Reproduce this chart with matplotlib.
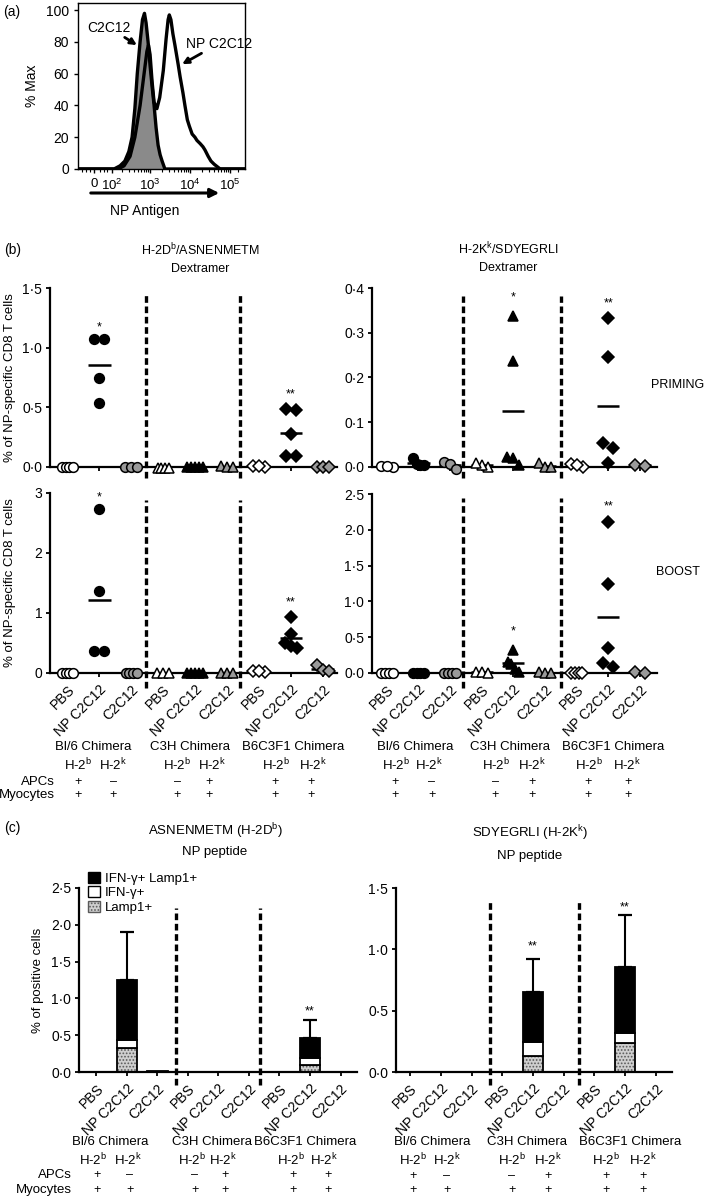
import numpy as np
import matplotlib
matplotlib.use('Agg')
import matplotlib.pyplot as plt
from matplotlib.ticker import FixedLocator, FuncFormatter
from matplotlib.patches import Patch, FancyArrowPatch

# ---------------- data ----------------
# panel (a) histograms (x in log10 fluorescence units, y = % Max)
c2c12_x = [1.2, 2.1, 2.25, 2.37, 2.47, 2.55, 2.62, 2.68, 2.75, 2.81, 2.86, 2.9, 2.95, 3.0, 3.05, 3.1, 3.15, 3.2, 3.25, 3.3, 3.37, 5.37]
c2c12_y = [0, 0, 2, 5, 11, 20, 38, 60, 80, 94, 98, 92, 80, 65, 52, 40, 26, 15, 9, 5, 0, 0]
npc2_x = [1.2, 2.2, 2.35, 2.5, 2.62, 2.75, 2.85, 2.92, 2.96, 3.0, 3.05, 3.1, 3.17, 3.24, 3.33, 3.4, 3.45, 3.48, 3.52, 3.57, 3.62, 3.7,
          3.75, 3.82, 3.87, 3.93, 3.98, 4.05, 4.12, 4.17, 4.25, 4.32, 4.37, 4.45, 4.52, 4.6, 4.7, 4.75, 5.37]
npc2_y = [0, 0, 2, 8, 20, 40, 60, 74, 78, 72, 55, 42, 38, 45, 62, 82, 94, 97, 94, 85, 78, 66,
          58, 48, 40, 31, 27, 22, 20, 18, 16, 14, 12, 8, 5, 3, 1, 0, 0]
hist_xticks = [1.6, 2.05, 3, 4, 5]
hist_xticklabels = ['0', '$10^2$', '$10^3$', '$10^4$', '$10^5$']

# panel (b): groups = [Bl/6 PBS, Bl/6 NP C2C12, Bl/6 C2C12, C3H PBS, C3H NP, C3H C2C12, B6 PBS, B6 NP, B6 C2C12]
group_labels = ['PBS', 'NP C2C12', 'C2C12'] * 3
prime_Db = [[0, 0, 0, 0], [1.07, 1.07, 0.745, 0.54], [0, 0, 0],
            [-0.005, -0.005, -0.005, -0.005], [0, 0, 0, 0, 0], [0.01, 0, 0],
            [0.01, 0, 0.005], [0.49, 0.48, 0.28, 0.09, 0.09], [0, 0, 0]]
prime_Kk = [[0.003, 0, 0.002], [0.005, 0.004, 0.006, 0.02], [0.012, 0.006, -0.004],
            [0.0, 0.005, 0.008], [0.338, 0.237, 0.022, 0.02, 0.005], [0.008, 0, 0],
            [0.006, 0.0, 0.004], [0.333, 0.246, 0.054, 0.042, 0.009], [0.004, 0.003]]
boost_Db = [[0, 0, 0, 0], [2.73, 1.37, 0.37, 0.37], [0, 0, 0, 0],
            [0, 0, 0], [0, 0, 0, 0, 0], [0, 0, 0],
            [0.04, 0.02, 0.03], [0.93, 0.65, 0.50, 0.45, 0.42], [0.13, 0.05, 0.03]]
boost_Kk = [[0, 0, 0, 0], [0, 0, 0, 0], [0, 0, 0, 0],
            [0.02, 0.01, 0], [0.32, 0.15, 0.12, 0.06, 0.02], [0.01, 0, 0],
            [0, 0, 0, 0], [2.11, 1.25, 0.35, 0.14, 0.08], [0.01, 0]]
# significance stars (group index, y value, text)
stars_prime_Db = [(1, 1.17, '*'), (7, 0.61, '**')]
stars_prime_Kk = [(4, 0.378, '*'), (7, 0.365, '**')]
stars_boost_Db = [(1, 2.93, '*'), (7, 1.18, '**')]
stars_boost_Kk = [(4, 0.58, '*'), (7, 2.33, '**')]

# panel (c): stacked bars per group
bar_lamp_Db = [0, 0.33, 0, 0, 0, 0, 0, 0.09, 0]
bar_ifn_Db = [0, 0.10, 0, 0, 0, 0, 0, 0.10, 0]
bar_both_Db = [0, 0.82, 0.02, 0, 0, 0, 0, 0.27, 0]
bar_err_Db = [0, 0.65, 0, 0, 0, 0, 0, 0.24, 0]
bar_lamp_Kk = [0, 0, 0, 0, 0.13, 0, 0, 0.24, 0]
bar_ifn_Kk = [0, 0, 0, 0, 0.115, 0, 0, 0.08, 0]
bar_both_Kk = [0, 0, 0, 0, 0.405, 0, 0, 0.54, 0]
bar_err_Kk = [0, 0, 0, 0, 0.27, 0, 0, 0.42, 0]
stars_bar_Db = [(7, 0.82, '**')]
stars_bar_Kk = [(4, 1.02, '**'), (7, 1.34, '**')]

chimeras = ['Bl/6 Chimera', 'C3H Chimera', 'B6C3F1 Chimera']
haplo = ['H-2$^{\\mathrm{b}}$', 'H-2$^{\\mathrm{k}}$'] * 3
apcs = ['+', '–', '–', '+', '+', '+']
myocytes = ['+', '+', '+', '+', '+', '+']

# ---------------- style ----------------
plt.rcParams['font.family'] = ['Liberation Sans', 'DejaVu Sans']
plt.rcParams['mathtext.fontset'] = 'custom'
plt.rcParams['mathtext.rm'] = 'Liberation Sans'
plt.rcParams['mathtext.it'] = 'Liberation Sans:italic'
plt.rcParams['mathtext.bf'] = 'Liberation Sans:bold'
plt.rcParams['font.size'] = 9
plt.rcParams['hatch.linewidth'] = 0.8

W, H = 712, 1197
fig = plt.figure(figsize=(W / 100, H / 100), dpi=100)
FS = 9
TFS = 10


def axes_px(l, t, r, b):
    return fig.add_axes([l / W, 1 - b / H, (r - l) / W, (b - t) / H])


def T(x, y, s, ha='center', va='center', **kw):
    kw.setdefault('fontsize', FS)
    fig.text(x / W, 1 - y / H, s, ha=ha, va=va, **kw)


def dotfmt(dec):
    def f(v, pos):
        return (f'{v:.{dec}f}').replace('.', '·')
    return FuncFormatter(f)


# ---------------- panel (a) ----------------
axA = axes_px(78, 3, 245, 169)
axA.fill_between(c2c12_x, c2c12_y, color='#8a8a8a', lw=0, zorder=1)
axA.plot(c2c12_x, c2c12_y, color='k', lw=2.4, zorder=2)
axA.plot(npc2_x, npc2_y, color='k', lw=2.4, zorder=3)
axA.set_xlim(1.2, 5.37)
axA.set_ylim(0, 104.5)
axA.xaxis.set_major_locator(FixedLocator(hist_xticks))
axA.set_xticklabels(hist_xticklabels, fontsize=9.5)
minors = [np.log10(k * 10 ** d) for d in (2, 3, 4) for k in range(2, 10)] + [5.2, 1.3, 1.4, 1.5, 1.6, 1.75, 1.85, 1.92]
axA.xaxis.set_minor_locator(FixedLocator(minors))
axA.set_yticks([0, 20, 40, 60, 80, 100])
axA.tick_params(axis='both', labelsize=TFS, direction='out', width=1, length=3)
axA.tick_params(axis='x', labelsize=9.5)
axA.tick_params(axis='x', which='minor', length=2, width=0.8)
for s in axA.spines.values():
    s.set_linewidth(1.0)
axA.annotate('C2C12', xy=(2.67, 78), xytext=(1.98, 89), ha='center', va='center', fontsize=TFS,
             arrowprops=dict(arrowstyle='-|>', lw=2.0, color='k', mutation_scale=9, shrinkA=0, shrinkB=0))
axA.annotate('NP C2C12', xy=(3.8, 66), xytext=(4.72, 79), ha='center', va='center', fontsize=TFS,
             arrowprops=dict(arrowstyle='-|>', lw=2.0, color='k', mutation_scale=9, shrinkA=0, shrinkB=0))
axA.set_ylabel('% Max', fontsize=TFS, labelpad=5)
fig.add_artist(FancyArrowPatch((88 / W, 1 - 193 / H), (222 / W, 1 - 193 / H), transform=fig.transFigure,
                               arrowstyle='-|>', mutation_scale=13, lw=2.2, color='k'))
T(145, 211, 'NP Antigen', fontsize=TFS)
T(3, 12, '(a)', ha='left', fontsize=TFS)

# ---------------- panel (b) ----------------
markers = ['o', '^', 'D']
msizes = [7, 7.5, 6]
faces = ['white', 'black', '#9a9a9a']


def swarm_offsets(vals, ypp, diam):
    vals = np.asarray(vals, float)
    order = np.argsort(-vals, kind='stable')
    offs = np.zeros(len(vals))
    clusters, cur = [], [order[0]]
    for a, b in zip(order[:-1], order[1:]):
        if (vals[a] - vals[b]) * ypp < 0.8 * diam:
            cur.append(b)
        else:
            clusters.append(cur)
            cur = [b]
    clusters.append(cur)
    for c in clusters:
        n = len(c)
        sp = diam * (1.0 if n == 2 else (0.6 if n == 3 else 0.38))
        for k, idx in enumerate(c):
            offs[idx] = (k - (n - 1) / 2) * sp
    return offs


def style_axis(ax, xlim, ylim, yticks, fmt, labels):
    ax.set_xlim(*xlim)
    ax.set_ylim(*ylim)
    for s in ['top', 'right']:
        ax.spines[s].set_visible(False)
    ax.spines['left'].set_linewidth(1.6)
    ax.spines['bottom'].set_linewidth(1.6)
    ax.set_yticks(yticks)
    ax.yaxis.set_major_formatter(fmt)
    ax.set_xticks(range(9))
    if labels:
        ax.set_xticklabels(group_labels, rotation=45, ha='right', rotation_mode='anchor', fontsize=TFS)
    else:
        ax.set_xticklabels([])
    ax.tick_params(axis='both', labelsize=TFS, direction='out', width=1.3, length=3, pad=2.5)
    ax.tick_params(axis='x', pad=4)


def dashed(ax, xs, top, bot):
    for x in xs:
        ax.plot([x, x], [bot, top], transform=ax.get_xaxis_transform(), color='k', lw=2.4,
                linestyle=(0, (2.0, 1.1)), clip_on=False, zorder=1)


def dot_panel(ax, groups, xlim, ylim, yticks, fmt, labels, dash_x, dtop, dbot, stars):
    style_axis(ax, xlim, ylim, yticks, fmt, labels)
    pos = ax.get_position()
    xpp = pos.width * W / (xlim[1] - xlim[0])
    ypp = pos.height * H / (ylim[1] - ylim[0])
    diam = 10
    for i, vals in enumerate(groups):
        strain, cond = i // 3, i % 3
        offs = swarm_offsets(vals, ypp, diam) / xpp
        xs = i + offs
        ax.hlines(np.mean(vals), i - 0.35, i + 0.35, color='k', lw=1.8, zorder=2)
        ax.plot(xs, vals, linestyle='none', marker=markers[strain], ms=msizes[strain],
                mfc=faces[cond], mec='k', mew=1.1, clip_on=False, zorder=3)
    for gi, y, s in stars:
        ax.text(gi, y, s, ha='center', va='center', fontsize=9)
    dashed(ax, dash_x, dtop, dbot)


PL = axes_px(50, 288, 337, 467)
dot_panel(PL, prime_Db, (-0.55, 8.45), (0, 1.5), [0, 0.5, 1.0, 1.5], dotfmt(1), False, [2.45, 5.4], 0.97, -0.06, stars_prime_Db)
PR = axes_px(372, 288, 657, 467)
dot_panel(PR, prime_Kk, (-0.47, 8.54), (0, 0.4), [0, 0.1, 0.2, 0.3, 0.4], dotfmt(1), False, [2.42, 5.5], 0.955, -0.06, stars_prime_Kk)
BL = axes_px(50, 493, 337, 673)
dot_panel(BL, boost_Db, (-0.55, 8.45), (0, 3), [0, 1, 2, 3], dotfmt(0), True, [2.45, 5.4], 0.96, -0.085, stars_boost_Db)
BR = axes_px(372, 494, 657, 673)
dot_panel(BR, boost_Kk, (-0.47, 8.54), (0, 2.5), [0, 0.5, 1.0, 1.5, 2.0, 2.5], dotfmt(1), True, [2.42, 5.5], 0.98, -0.085, stars_boost_Kk)

T(4, 250, '(b)', ha='left', fontsize=TFS)
T(200, 250, 'H-2D$^{\\mathrm{b}}$/ASNENMETM')
T(200, 269, 'Dextramer')
T(508, 249, 'H-2K$^{\\mathrm{k}}$/SDYEGRLI')
T(508, 268, 'Dextramer')
T(678, 385, 'PRIMING', fontsize=9)
T(678, 572, 'BOOST', fontsize=9)
T(10, 378, '% of NP-specific CD8 T cells', rotation=90, fontsize=9.5)
T(10, 583, '% of NP-specific CD8 T cells', rotation=90, fontsize=9.5)


def rows(name_x, name_y, h_x, h_y, s_x, apc_y, myo_y, lab_x):
    for n, x in zip(chimeras, name_x):
        T(x, name_y, n, fontsize=9.5)
    for h, x in zip(haplo, h_x):
        T(x, h_y, h, fontsize=9.5)
    for a, m, x in zip(apcs, myocytes, s_x):
        T(x, apc_y, a)
        T(x, myo_y, m)
    if lab_x is not None:
        T(lab_x, apc_y, 'APCs', ha='right', fontsize=9.5)
        T(lab_x, myo_y, 'Myocytes', ha='right', fontsize=9.5)


rows([93, 190, 293], 747, [78, 113, 177, 212, 276, 313], 765, [78, 113, 177, 209, 275, 311], 782, 795, 55)
rows([415, 510, 613], 747, [396, 429, 496, 532, 589, 627], 765, [395, 432, 495, 532, 588, 628], 782, 795, None)

# ---------------- panel (c) ----------------
HATCH_FC = '#cfcfcf'
HATCH_EC = '#5a5a5a'


def bar_panel(ax, lamp, ifn, both, err, xlim, ylim, yticks, dash_x, dtop, dbot, stars):
    style_axis(ax, xlim, ylim, yticks, dotfmt(1), True)
    x = np.arange(9)
    lamp = np.asarray(lamp); ifn = np.asarray(ifn); both = np.asarray(both); err = np.asarray(err)
    w = 0.67
    ax.bar(x, lamp, w, color=HATCH_FC, hatch='.....', edgecolor=HATCH_EC, lw=0, zorder=2)
    ax.bar(x, lamp, w, facecolor='none', edgecolor='k', lw=1.3, zorder=3)
    ax.bar(x, ifn, w, bottom=lamp, color='white', edgecolor='k', lw=1.3, zorder=3)
    ax.bar(x, both, w, bottom=lamp + ifn, color='black', edgecolor='k', lw=1.3, zorder=3)
    tot = lamp + ifn + both
    m = err > 0
    ax.errorbar(x[m], tot[m], yerr=[np.zeros(m.sum()), err[m]], fmt='none', ecolor='k',
                elinewidth=1.5, capsize=5, capthick=1.6, zorder=1)
    for gi, y, s in stars:
        ax.text(gi, y, s, ha='center', va='center', fontsize=9)
    dashed(ax, dash_x, dtop, dbot)


CL = axes_px(79, 888, 357, 1072)
bar_panel(CL, bar_lamp_Db, bar_ifn_Db, bar_both_Db, bar_err_Db, (-0.57, 8.54), (0, 2.5),
          [0, 0.5, 1.0, 1.5, 2.0, 2.5], [2.6, 5.36], 0.89, -0.07, stars_bar_Db)
CR = axes_px(396, 888, 672, 1072)
bar_panel(CR, bar_lamp_Kk, bar_ifn_Kk, bar_both_Kk, bar_err_Kk, (-0.46, 8.53), (0, 1.5),
          [0, 0.5, 1.0, 1.5], [2.6, 5.5], 0.94, -0.07, stars_bar_Kk)

handles = [Patch(facecolor='black', edgecolor='k', lw=1),
           Patch(facecolor='white', edgecolor='k', lw=1),
           Patch(facecolor=HATCH_FC, edgecolor=HATCH_EC, hatch='.....', lw=1)]
fig.legend(handles, ['IFN-γ+ Lamp1+', 'IFN-γ+', 'Lamp1+'], loc='upper left',
           bbox_to_anchor=(88 / W, 1 - 872 / H), frameon=False, fontsize=9.5, handlelength=0.9,
           handleheight=0.9, labelspacing=0.1, handletextpad=0.4, borderpad=0, borderaxespad=0)

T(4, 828, '(c)', ha='left', fontsize=TFS)
T(215, 831, 'ASNENMETM (H-2D$^{\\mathrm{b}}$)', fontsize=9.5)
T(215, 852, 'NP peptide', fontsize=9.5)
T(530, 833, 'SDYEGRLI (H-2K$^{\\mathrm{k}}$)', fontsize=9.5)
T(530, 856, 'NP peptide', fontsize=9.5)
T(38, 980, '% of positive cells', rotation=90, fontsize=9.5)

rows([110, 212, 305], 1142, [93, 128, 192, 223, 291, 324], 1160, [97, 130, 195, 225, 293, 328], 1175, 1190, 72)
rows([432, 527, 630], 1142, [413, 447, 512, 548, 606, 643], 1160, [413, 447, 512, 548, 606, 643], 1176, 1190, None)

fig.savefig('out.png', dpi=100)
